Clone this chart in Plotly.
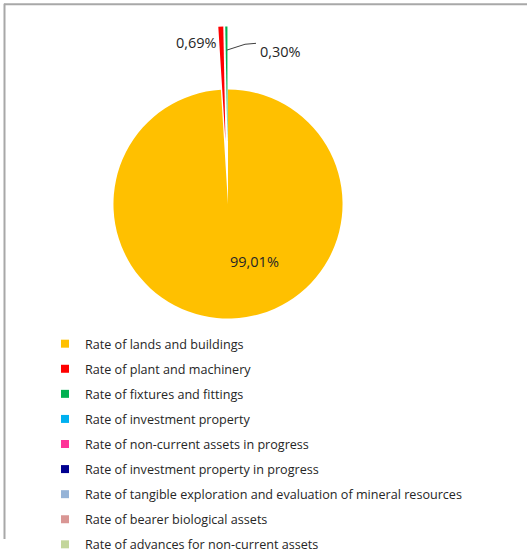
import plotly.graph_objects as go

categories = [
    "Rate of lands and buildings",
    "Rate of plant and machinery",
    "Rate of fixtures and fittings",
    "Rate of investment property",
    "Rate of non-current assets in progress",
    "Rate of investment property in progress",
    "Rate of tangible exploration and evaluation of mineral resources",
    "Rate of bearer biological assets",
    "Rate of advances for non-current assets",
]
values = [99.01, 0.69, 0.30, 0, 0, 0, 0, 0, 0]
colors = ["#FFC000", "#FF0000", "#00B050", "#00B0F0", "#FF3399",
          "#000090", "#95B3D7", "#D99694", "#C3D69B"]
pulls = [0, 0.55, 0.55, 0, 0, 0, 0, 0, 0]

W, H = 527, 560
FONT = "Open Sans"
TXT = "#262626"

def fmt(v):
    return f"{v:.2f}".replace(".", ",") + "%"

fig = go.Figure()

cx, cy, r = 228, 212, 119
half = r * (1 + max(pulls))
fig.add_trace(go.Pie(
    labels=categories, values=values, marker=dict(colors=colors, line=dict(width=0)),
    sort=False, direction="clockwise", rotation=0, pull=pulls,
    textinfo="none", showlegend=False, hoverinfo="label+percent",
    domain=dict(x=[(cx - half) / W, (cx + half) / W],
                y=[1 - (cy + half) / H, 1 - (cy - half) / H]),
))

for i, (c, col) in enumerate(zip(categories, colors)):
    fig.add_trace(go.Scatter(
        x=[None], y=[None], mode="markers", name=c,
        marker=dict(symbol="square", size=8, color=col),
        legendgroup=f"g{i}", showlegend=True,
    ))

label_pos = [(254, 272), (174, 32), (280, 42)]
for i, (lx, ly) in enumerate(label_pos):
    fig.add_annotation(
        x=lx / W, y=1 - ly / H, xref="paper", yref="paper",
        text=fmt(values[i]), showarrow=False,
        font=dict(family=FONT, size=14.5, color=TXT),
    )
fig.add_shape(type="path", xref="paper", yref="paper",
              path=f"M {227/W} {1-52/H} L {245/W} {1-46/H} L {256/W} {1-45/H}",
              line=dict(color="#404040", width=1))

fig.add_shape(type="line", xref="paper", yref="paper",
              x0=4 / W, x1=1, y0=1 - 4.5 / H, y1=1 - 4.5 / H,
              line=dict(color="#A8A8A8", width=2))
fig.add_shape(type="line", xref="paper", yref="paper",
              x0=4.5 / W, x1=4.5 / W, y0=0, y1=1 - 4 / H,
              line=dict(color="#A8A8A8", width=2))

fig.update_layout(
    width=W, height=H,
    margin=dict(l=0, r=0, t=0, b=0),
    paper_bgcolor="white", plot_bgcolor="white",
    xaxis=dict(visible=False), yaxis=dict(visible=False),
    font=dict(family=FONT, size=12.5, color=TXT),
    legend=dict(
        x=45 / W, y=1 - 342 / H, xanchor="left", yanchor="top",
        tracegroupgap=5.7, bgcolor="rgba(0,0,0,0)",
        font=dict(family=FONT, size=12.6, color=TXT),
    ),
)

fig.write_html("out.html")
